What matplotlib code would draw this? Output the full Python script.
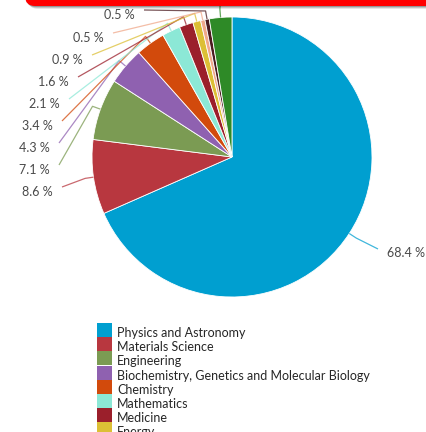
import numpy as np
import matplotlib.pyplot as plt
from matplotlib.patches import FancyBboxPatch, Rectangle
from matplotlib.transforms import IdentityTransform

plt.rcParams['font.family'] = ['Lato', 'DejaVu Sans']

# subject areas and their share of documents (%)
categories = ["Physics and Astronomy", "Materials Science", "Engineering",
              "Biochemistry, Genetics and Molecular Biology", "Chemistry",
              "Mathematics", "Medicine", "Energy", "Computer Science",
              "Chemical Engineering", "Other"]
values = [68.4, 8.6, 7.1, 4.3, 3.4, 2.1, 1.6, 0.9, 0.5, 0.5, 2.6]
colors = ["#009fd0", "#b8373f", "#7b9b53", "#8f61b0", "#d24a0c", "#8ce8d6",
          "#9b1f2b", "#dcbf35", "#f0a88a", "#4b1b20", "#2e8a27"]

W, H = 427, 432
fig = plt.figure(figsize=(W / 100, H / 100), dpi=100)

# pie centre and radius in pixels (from top-left)
cx, cy, R = 232, 157, 140
ax = fig.add_axes([(cx - R) / W, 1 - (cy + R) / H, 2 * R / W, 2 * R / H])
wedges, _ = ax.pie(values, colors=colors, startangle=90, counterclock=False,
                   radius=1, wedgeprops=dict(edgecolor='white', linewidth=0.6))
ax.set_xlim(-1, 1)
ax.set_ylim(-1, 1)
ax.axis('off')


def to_data(px, py):
    return (px - cx) / R, (cy - py) / R


# where each value label sits: (x, y, side) in pixels; the last one
# runs up under the banner, so it only gets its connector
label_pos = [(387, 253, 'left'), (53, 192, 'right'), (50, 170, 'right'),
             (50, 148, 'right'), (53, 126, 'right'), (60, 104, 'right'),
             (69, 82, 'right'), (83, 60, 'right'), (104, 38, 'right'),
             (135, 15, 'right'), (221, -10, None)]

cum = np.cumsum([0] + values)
for i, w in enumerate(wedges):
    mid = 90 - 360 * (cum[i] + cum[i + 1]) / 2 / 100
    a = np.deg2rad(mid)
    edge = (np.cos(a), np.sin(a))
    knee = (1.06 * np.cos(a), 1.06 * np.sin(a))
    lx, ly, side = label_pos[i]
    if side is not None:
        tx, ty = to_data(lx, ly)
        ax.text(tx, ty, f"{values[i]} %", ha=side, va='center', fontsize=9,
                color='#4a4a4a')
    if side == 'right':
        sx, sy = to_data(lx + 9, ly - 5)
    elif side == 'left':
        sx, sy = to_data(lx - 9, ly - 4)
    else:
        sx, sy = to_data(lx, ly)
    ax.plot([sx, knee[0], edge[0]], [sy, knee[1], edge[1]], color=colors[i],
            lw=0.9, alpha=0.75, clip_on=False, solid_capstyle='butt')

# red banner across the top, with a soft shadow
for k, al in enumerate([0.10, 0.15, 0.22]):
    off = 3 - k
    fig.add_artist(FancyBboxPatch((25 + off, H - 6 - off), 430, 40,
                                  boxstyle="round,pad=0,rounding_size=10",
                                  transform=IdentityTransform(),
                                  facecolor='black', edgecolor='none',
                                  alpha=al, zorder=5))
fig.add_artist(FancyBboxPatch((25, H - 6), 430, 40,
                              boxstyle="round,pad=0,rounding_size=10",
                              transform=IdentityTransform(),
                              facecolor='#ff0000', edgecolor='none', zorder=6))

# legend, one row per subject area; rows past the bottom edge are skipped
top, pitch = 323, 14.2
for i, (name, c) in enumerate(zip(categories, colors)):
    y0 = top + i * pitch
    if y0 > H:
        break
    fig.add_artist(Rectangle((97, H - y0 - 14), 15, 14,
                             transform=IdentityTransform(),
                             facecolor=c, edgecolor='none'))
    fig.text(117 / W, 1 - (y0 + 10) / H, name, ha='left', va='center',
             fontsize=9, color='#262626')

fig.savefig('out.png', dpi=100)
